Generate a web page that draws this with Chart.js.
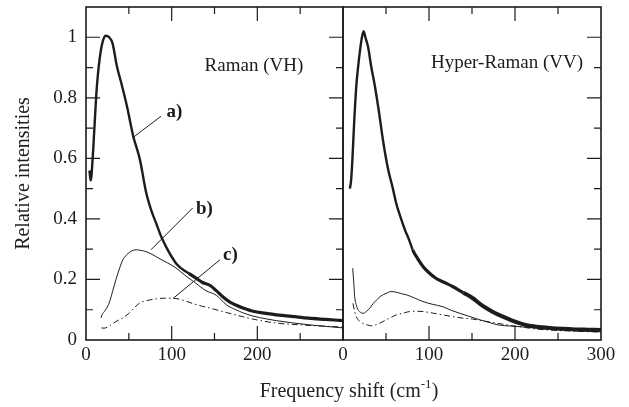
<!DOCTYPE html>
<html>
<head>
<meta charset="utf-8">
<script src="https://cdn.jsdelivr.net/npm/chart.js@4.4.1/dist/chart.umd.min.js"></script>
<style>
  body { margin: 0; background: #fff; }
  #wrap { position: relative; width: 629px; height: 407px; }
  canvas { position: absolute; top: 0; }
  #xtitle {
    position: absolute; left: 0; width: 698px; top: 379px; text-align: center;
    font: 20px "Liberation Serif", serif; line-height: 22px; color: #222;
  }
  #xtitle sup { font-size: 13px; vertical-align: 9px; line-height: 0; }
</style>
</head>
<body>
<div id="wrap">
  <canvas id="left" width="345" height="407" style="left:0"></canvas>
  <canvas id="right" width="329" height="407" style="left:300px"></canvas>
  <div id="xtitle">Frequency shift (cm<sup>-1</sup>)</div>
</div>
<script>
// Raman (VH) panel — a) thick, b) thin solid, c) dash-dot
const ramanA_x = [4, 5.5, 8, 10, 12, 14, 16, 19, 23, 27, 31, 36, 42, 48, 55, 63, 70, 76, 82, 88, 94, 100, 106, 112, 120, 128, 136, 145, 152, 160, 168, 176, 184, 195, 210, 225, 240, 260, 280, 300];
const ramanA_y = [0.56, 0.527, 0.61, 0.71, 0.81, 0.88, 0.93, 0.98, 1.005, 1.0, 0.98, 0.905, 0.84, 0.77, 0.675, 0.595, 0.49, 0.43, 0.385, 0.34, 0.305, 0.275, 0.25, 0.235, 0.22, 0.205, 0.19, 0.18, 0.163, 0.142, 0.125, 0.114, 0.105, 0.095, 0.088, 0.082, 0.078, 0.072, 0.068, 0.064];

const ramanB_x = [17.5, 19, 21.4, 24, 27, 31, 35, 39, 43, 47, 51, 55, 59, 64, 70, 77, 85, 95, 105, 115, 128, 140, 152, 164, 175, 183, 195, 210, 222, 240, 261, 280, 300];
const ramanB_y = [0.073, 0.085, 0.094, 0.105, 0.122, 0.16, 0.2, 0.235, 0.265, 0.28, 0.29, 0.296, 0.298, 0.296, 0.292, 0.283, 0.27, 0.255, 0.238, 0.215, 0.188, 0.163, 0.148, 0.116, 0.1, 0.09, 0.079, 0.07, 0.064, 0.057, 0.05, 0.045, 0.04];

const ramanC_x = [18, 21, 28, 35, 43, 50, 56, 62, 68, 74, 82, 90, 98, 105, 115, 125, 135, 148, 165, 183, 200, 222, 250, 275, 300];
const ramanC_y = [0.04, 0.039, 0.048, 0.061, 0.073, 0.088, 0.105, 0.121, 0.128, 0.132, 0.136, 0.138, 0.138, 0.137, 0.13, 0.12, 0.112, 0.103, 0.09, 0.077, 0.066, 0.056, 0.05, 0.046, 0.043];

// Hyper-Raman (VV) panel
const hyperA_x = [8, 9.5, 11, 13, 15.5, 17.5, 19.5, 22, 24, 26, 29, 33, 37, 42, 46.5, 52, 58, 62, 67, 72, 77, 81, 87, 93, 100, 108, 118, 128, 140, 151, 160, 167, 176, 186, 196, 206, 215, 225, 240, 255, 270, 285, 300];
const hyperA_y = [0.5, 0.53, 0.6, 0.72, 0.84, 0.9, 0.95, 1.0, 1.02, 1.0, 0.97, 0.9, 0.84, 0.75, 0.66, 0.57, 0.5, 0.45, 0.405, 0.364, 0.33, 0.298, 0.268, 0.243, 0.222, 0.204, 0.19, 0.176, 0.156, 0.138, 0.118, 0.105, 0.09, 0.077, 0.065, 0.055, 0.048, 0.044, 0.04, 0.037, 0.035, 0.034, 0.033];

const hyperB_x = [11.3, 12.5, 13.6, 15.5, 17.4, 20, 23.3, 27, 31, 35, 39, 44, 50, 56, 62, 68, 74, 83, 93, 104, 116, 126, 136, 148, 160, 170, 180, 195, 210, 230, 250, 275, 300];
const hyperB_y = [0.237, 0.19, 0.143, 0.115, 0.1, 0.092, 0.088, 0.094, 0.105, 0.12, 0.132, 0.145, 0.154, 0.16, 0.158, 0.153, 0.149, 0.139, 0.127, 0.118, 0.11, 0.098, 0.088, 0.077, 0.066, 0.058, 0.05, 0.046, 0.043, 0.038, 0.034, 0.03, 0.027];

const hyperC_x = [11.6, 13.5, 15.5, 19, 23.3, 28, 33, 40, 46.5, 54, 62, 70, 77.5, 85, 93, 104, 116, 128, 140, 151, 165, 180, 195, 210, 225, 240, 260, 280, 300];
const hyperC_y = [0.121, 0.095, 0.077, 0.063, 0.055, 0.05, 0.047, 0.052, 0.061, 0.072, 0.083, 0.089, 0.094, 0.095, 0.094, 0.089, 0.083, 0.077, 0.072, 0.069, 0.062, 0.055, 0.048, 0.042, 0.036, 0.033, 0.03, 0.028, 0.026];

// axes
const yTicks = [0, 0.2, 0.4, 0.6, 0.8, 1];
const yTickLabels = ['0', '0.2', '0.4', '0.6', '0.8', '1'];
const yMinor = [0.1, 0.2, 0.3, 0.4, 0.5, 0.6, 0.7, 0.8, 0.9, 1.0];
const xMinor = [50, 100, 150, 200, 250];
const leftXTicks = [0, 100, 200];
const rightXTicks = [0, 100, 200, 300];

// annotations: [text, x, y, bold, align]
const ramanNotes = [['Raman (VH)', 196, 0.89, false, 'center'], ['a)', 94, 0.735, true, 'left'], ['b)', 128.4, 0.417, true, 'left'], ['c)', 160, 0.265, true, 'left']];
const hyperNotes = [['Hyper-Raman (VV)', 190.7, 0.897, false, 'center']];
const leaderA = [[54.5, 0.668], [87.5, 0.739]];
const leaderB = [[75.8, 0.298], [124.5, 0.436]];
const leaderC = [[101.9, 0.138], [156.4, 0.265]];

const INK = '#1c1c1c';
const FONT = '"Liberation Serif", "Times New Roman", serif';

const pts = (xs, ys) => xs.map((x, i) => ({ x, y: ys[i] }));
const lead = (arr) => arr.map(([x, y]) => ({ x, y }));

function series(xs, ys, kind, heavyFrom) {
  const ds = {
    data: pts(xs, ys),
    borderColor: INK,
    borderWidth: 1,
    pointRadius: 0,
    cubicInterpolationMode: 'monotone',
    fill: false,
  };
  if (kind === 'thick') {
    ds.borderWidth = 2.4;
    ds.segment = { borderWidth: (c) => (c.p0.parsed.x >= heavyFrom[0] ? (c.p0.parsed.x >= heavyFrom[1] ? 4 : 3.2) : 2.4) };
  }
  if (kind === 'dashdot') ds.borderDash = [6, 3, 1.5, 3];
  return ds;
}
function leader(data) {
  return { data: lead(data), borderColor: INK, borderWidth: 1, pointRadius: 0, tension: 0 };
}

const frameTicks = {
  id: 'frameTicks',
  afterDatasetsDraw(chart, args, opts) {
    const { ctx, chartArea: a, scales: { x, y } } = chart;
    ctx.save();
    ctx.strokeStyle = INK;
    ctx.lineWidth = 1.2;
    ctx.beginPath();
    for (const v of xMinor) {
      const px = x.getPixelForValue(v);
      const len = v % 100 === 0 ? 14 : 7;
      ctx.moveTo(px, a.bottom); ctx.lineTo(px, a.bottom - len);
      ctx.moveTo(px, a.top); ctx.lineTo(px, a.top + len);
    }
    for (const v of yMinor) {
      const py = y.getPixelForValue(v);
      const len = Math.round(v * 10) % 2 === 0 ? 14 : 7;
      if (opts.left) { ctx.moveTo(a.left, py); ctx.lineTo(a.left + len, py); }
      if (opts.right) { ctx.moveTo(a.right, py); ctx.lineTo(a.right - len, py); }
    }
    ctx.stroke();
    ctx.lineWidth = 1.6;
    ctx.strokeRect(a.left, a.top, a.right - a.left, a.bottom - a.top);

    ctx.fillStyle = INK;
    ctx.textBaseline = 'alphabetic';
    for (const [text, vx, vy, bold, align] of opts.notes) {
      ctx.font = (bold ? 'bold ' : '') + '19px ' + FONT;
      ctx.textAlign = align;
      ctx.fillText(text, x.getPixelForValue(vx), y.getPixelForValue(vy));
    }
    ctx.restore();
  },
};

function makeChart(id, datasets, xTicks, pad, showY, tickOpts) {
  return new Chart(document.getElementById(id), {
    type: 'line',
    data: { datasets },
    plugins: [frameTicks],
    options: {
      responsive: false,
      animation: false,
      parsing: false,
      layout: { padding: pad },
      plugins: { legend: { display: false }, tooltip: { enabled: false }, frameTicks: tickOpts },
      scales: {
        x: {
          type: 'linear', min: 0, max: 300,
          afterBuildTicks: (s) => { s.ticks = xTicks.map((v) => ({ value: v })); },
          afterFit: (s) => { s.height = 67; s.paddingLeft = 0; s.paddingRight = 0; },
          grid: { display: false, drawTicks: false },
          border: { display: false },
          ticks: { color: INK, padding: 4, maxRotation: 0, font: { family: FONT, size: 19 }, callback: (v) => String(v) },
        },
        y: {
          type: 'linear', min: 0, max: 1.1,
          display: showY,
          afterBuildTicks: (s) => { s.ticks = yTicks.map((v) => ({ value: v })); },
          afterFit: (s) => { s.width = showY ? 86 : 0; s.paddingTop = 0; s.paddingBottom = 0; },
          grid: { display: false, drawTicks: false },
          border: { display: false },
          ticks: {
            color: INK, padding: 9, font: { family: FONT, size: 19 },
            callback: (v) => yTickLabels[yTicks.indexOf(v)] ?? '',
          },
          title: { display: true, text: 'Relative intensities', color: INK, padding: { top: 12, bottom: 0 }, font: { family: FONT, size: 20 } },
        },
      },
    },
  });
}

makeChart('left', [
  series(ramanA_x, ramanA_y, 'thick', [115, 1000]),
  series(ramanB_x, ramanB_y, 'thin'),
  series(ramanC_x, ramanC_y, 'dashdot'),
  leader(leaderA), leader(leaderB), leader(leaderC),
], leftXTicks, { top: 7, right: 2, left: 0, bottom: 0 }, true, { left: true, right: true, notes: ramanNotes });

makeChart('right', [
  series(hyperA_x, hyperA_y, 'thick', [80, 140]),
  series(hyperB_x, hyperB_y, 'thin'),
  series(hyperC_x, hyperC_y, 'dashdot'),
], rightXTicks, { top: 7, right: 28, left: 43, bottom: 0 }, false, { left: false, right: true, notes: hyperNotes });
</script>
</body>
</html>
